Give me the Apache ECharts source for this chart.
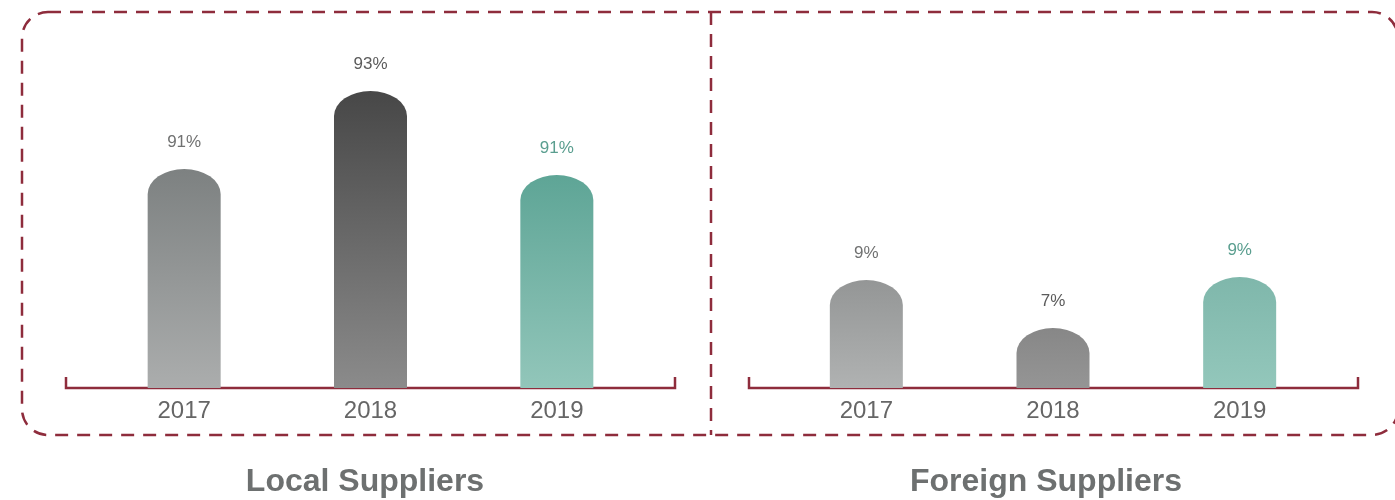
<!DOCTYPE html>
<html><head><meta charset="utf-8">
<script src="https://cdn.jsdelivr.net/npm/echarts@6/dist/echarts.min.js"></script>
<style>html,body{margin:0;padding:0;background:#fff}#c{width:1395px;height:500px}</style>
</head><body><div id="c"></div>
<script>
// ---- data ----
const years = ['2017', '2018', '2019'];
const localShare = [91, 93, 91];          // label values (%)
const foreignShare = [9, 7, 9];           // label values (%)
const localBarHeight = [73, 99, 71];      // drawn bar heights (relative units)
const foreignBarHeight = [36, 20, 37];
const panelTitles = ['Local Suppliers', 'Foreign Suppliers'];

// ---- styles ----
const FONT = '"Liberation Sans", Arial, Helvetica, sans-serif';
const RED = '#8e2c3c';
const localColors = [['#7d8181', '#abadad'], ['#474747', '#8b8b8b'], ['#5ea596', '#92c6ba']];
const foreignColors = [['#949696', '#b0b2b2'], ['#878787', '#959595'], ['#7fb7ab', '#93c7bb']];
const labelColors = ['#707171', '#5b5b5b', '#5a9e8f'];

function makeRender(colors, shares) {
  return function (params, api) {
    const i = params.dataIndex;
    const base = api.coord([api.value(0), 0]);
    const top = api.coord([api.value(0), api.value(1)]);
    const w = 73;
    const x0 = base[0] - w / 2, x1 = base[0] + w / 2;
    const rx = w / 2, ry = 25;
    const yt = top[1], yb = base[1];
    const d = 'M' + x0 + ' ' + yb + ' L' + x0 + ' ' + (yt + ry) +
      ' A' + rx + ' ' + ry + ' 0 0 1 ' + x1 + ' ' + (yt + ry) +
      ' L' + x1 + ' ' + yb + ' Z';
    return {
      type: 'group',
      children: [
        {
          type: 'path',
          shape: { pathData: d },
          style: {
            fill: new echarts.graphic.LinearGradient(0, 0, 0, 1, [
              { offset: 0, color: colors[i][0] },
              { offset: 1, color: colors[i][1] }
            ])
          }
        },
        {
          type: 'text',
          style: {
            text: shares[i] + '%',
            x: base[0], y: yt - 27,
            align: 'center', verticalAlign: 'middle',
            fill: labelColors[i],
            fontSize: 17, fontFamily: FONT
          }
        }
      ]
    };
  };
}

const chart = echarts.init(document.getElementById('c'));
const xAxisCommon = {
  type: 'category', data: years,
  axisLine: { show: false }, axisTick: { show: false },
  axisLabel: { fontSize: 24, color: '#666666', fontFamily: FONT, margin: 11 }
};
const yAxisCommon = { type: 'value', min: 0, max: 100, show: false, splitLine: { show: false } };

chart.setOption({
  animation: false,
  grid: [
    { left: 91, width: 559, top: 88, height: 300 },
    { left: 773, width: 560, top: 88, height: 300 }
  ],
  xAxis: [Object.assign({ gridIndex: 0 }, xAxisCommon), Object.assign({ gridIndex: 1 }, xAxisCommon)],
  yAxis: [Object.assign({ gridIndex: 0 }, yAxisCommon), Object.assign({ gridIndex: 1 }, yAxisCommon)],
  series: [
    {
      type: 'custom', xAxisIndex: 0, yAxisIndex: 0,
      data: localBarHeight.map((v, i) => [i, v]),
      renderItem: makeRender(localColors, localShare)
    },
    {
      type: 'custom', xAxisIndex: 1, yAxisIndex: 1,
      data: foreignBarHeight.map((v, i) => [i, v]),
      renderItem: makeRender(foreignColors, foreignShare)
    }
  ],
  graphic: [
    {
      type: 'rect', z: -1,
      shape: { x: 22, y: 12, width: 1376, height: 423, r: 26 },
      style: { fill: 'none', stroke: RED, lineWidth: 2.5, lineDash: [13, 9] }
    },
    {
      type: 'line',
      shape: { x1: 711, y1: 12, x2: 711, y2: 435 },
      style: { stroke: RED, lineWidth: 2.5, lineDash: [13, 9] }
    },
    {
      type: 'polyline',
      shape: { points: [[66, 377], [66, 388], [675, 388], [675, 377]] },
      style: { stroke: RED, lineWidth: 2.5, fill: 'none' }
    },
    {
      type: 'polyline',
      shape: { points: [[749, 377], [749, 388], [1358, 388], [1358, 377]] },
      style: { stroke: RED, lineWidth: 2.5, fill: 'none' }
    },
    {
      type: 'text',
      style: {
        text: panelTitles[0], x: 365, y: 482, align: 'center', verticalAlign: 'middle',
        fill: '#6d7070', fontSize: 32, fontWeight: 'bold', fontFamily: FONT
      }
    },
    {
      type: 'text',
      style: {
        text: panelTitles[1], x: 1046, y: 482, align: 'center', verticalAlign: 'middle',
        fill: '#6d7070', fontSize: 32, fontWeight: 'bold', fontFamily: FONT
      }
    }
  ]
});
</script>
</body></html>
